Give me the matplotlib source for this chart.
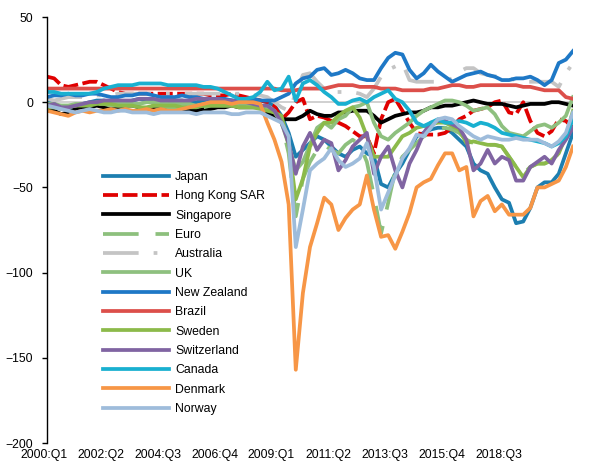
import numpy as np
import matplotlib.pyplot as plt
import matplotlib.transforms as mtransforms

plt.rcParams['font.family'] = ['Liberation Sans', 'DejaVu Sans']

# quarterly, 2000:Q1 .. 2018:Q3 (75 points)
tick_labels = ['2000:Q1', '2002:Q2', '2004:Q3', '2006:Q4', '2009:Q1',
               '2011:Q2', '2013:Q3', '2015:Q4', '2018:Q3']

japan = [0, -1, -3, -4, -2, -1, 0, 1, 1, 0, -1, 0, 1, 2, 1, 0, -1, 0, 1, 1, 0, 0, 1, 2, 2, 1, 1, 0, 0, 1, 1, 0,
         -2, -8, -18, -32, -28, -24, -20, -22, -26, -30, -32, -28, -26, -30, -32, -48, -50, -42, -36, -28, -20,
         -18, -16, -15, -15, -18, -22, -26, -36, -40, -42, -50, -57, -59, -71, -70, -62, -50, -47, -47, -42, -30, -18]
hong_kong = [15, 14, 10, 9, 10, 11, 12, 12, 10, 8, 6, 5, 5, 5, 5, 5, 5, 5, 5, 5, 5, 5, 5, 4, 4, 4, 5, 4, 3, 2, 1, 0,
             -2, -10, -6, 0, 2, -10, -8, -9, -11, -12, -14, -17, -20, -20, -30, -10, 0, 2, -5, -12, -18,
             -19, -19, -19, -18, -15, -10, -8, -5, -4, -3, 0, 1, -6, -7, 0, -11, -18, -20, -17, -10, -11, -15]
singapore = [-4, -5, -7, -6, -4, -3, -3, -2, -3, -4, -3, -2, -2, -3, -4, -3, -2, -3, -4, -4, -5, -5, -4, -4, -3, -3, -2, -3, -3, -3, -3, -6,
             -8, -10, -10, -10, -8, -5, -7, -8, -8, -6, -6, -5, -5, -5, -8, -12, -10, -8, -7, -6, -6,
             -5, -3, -3, -2, -2, -1, 0, 1, 0, -1, -1, -1, -2, -3, -2, -1, -1, -1, 0, 0, -1, -2]
euro = [-3, -3, -2, -2, -2, -1, -1, -1, -1, -2, -2, -2, -2, -2, -2, -2, -2, -3, -3, -3, -3, -3, -3, -2, -2, -2, -2, -2, -3, -3, -3, -4,
        -6, -12, -30, -67, -45, -35, -28, -25, -28, -30, -25, -22, -25, -35, -55, -77, -59, -40, -32, -28, -24,
        -20, -18, -16, -15, -16, -18, -22, -24, -24, -25, -25, -26, -32, -38, -42, -38, -36, -36, -34, -30, -20, -8]
australia = [2, 1, 2, 3, 3, 3, 4, 4, 4, 4, 5, 5, 5, 5, 5, 5, 5, 5, 5, 5, 5, 5, 5, 5, 5, 5, 5, 5, 5, 4, 4, 3,
             0, -3, -5, 5, 16, 17, 12, 8, 6, 6, 6, 6, 5, 3, 8, 15, 19, 21, 23, 13, 12,
             12, 12, 12, 12, 14, 18, 20, 20, 17, 16, 15, 16, 14, 13, 12, 12, 12, 12, 12, 9, 17, 23]
uk = [-1, -1, -2, -2, -1, -1, -1, 0, 0, 0, 0, -1, -1, -1, 0, 0, 0, -1, -1, -1, -1, -2, -2, -1, -1, -1, -1, -1, -1, -2, -2, -3,
      -5, -12, -25, -40, -35, -25, -15, -12, -15, -10, -8, -3, -2, 0, -12, -20, -22, -18, -15, -12, -8,
      -5, -3, -1, 1, 1, 0, -2, -5, -4, -3, -7, -14, -18, -19, -20, -17, -14, -13, -15, -12, -8, 3]
new_zealand = [3, 4, 4, 5, 4, 4, 5, 5, 4, 3, 3, 4, 4, 5, 5, 4, 3, 3, 3, 4, 3, 3, 2, 2, 2, 2, 1, 1, 2, 2, 1, 1,
               1, 3, 5, 11, 14, 15, 19, 20, 16, 17, 19, 17, 14, 13, 13, 20, 26, 29, 28, 19, 14,
               17, 22, 18, 15, 12, 14, 16, 17, 18, 16, 15, 13, 13, 14, 14, 15, 13, 10, 13, 23, 25, 30]
brazil = [8, 8, 8, 8, 8, 8, 8, 8, 8, 8, 8, 8, 8, 8, 8, 8, 8, 8, 8, 8, 8, 8, 8, 8, 8, 8, 8, 8, 8, 8, 8, 8,
          8, 7, 7, 7, 8, 8, 8, 8, 9, 10, 10, 10, 9, 9, 9, 8, 8, 8, 7, 7, 7,
          7, 8, 8, 9, 10, 10, 9, 9, 10, 10, 10, 10, 10, 10, 9, 9, 8, 7, 7, 7, 3, 2]
sweden = [-3, -3, -4, -3, -2, -2, -2, -1, -1, -1, -2, -2, -2, -3, -3, -2, -2, -2, -2, -3, -3, -3, -2, -2, -2, -2, -2, -3, -3, -3, -4, -5,
          -6, -8, -25, -57, -45, -26, -18, -12, -12, -8, -5, -3, -9, -20, -32, -32, -32, -26, -20, -18, -15,
          -14, -13, -12, -12, -14, -16, -24, -23, -24, -25, -25, -26, -32, -38, -44, -38, -36, -36, -34, -30, -20, -5]
switzerland = [-2, -1, -3, -3, -2, -1, 0, 0, 1, 1, 1, 1, 1, 2, 2, 2, 1, 1, 1, 1, 1, 2, 2, 2, 2, 1, 1, 0, 0, -1, -2, -2,
               -5, -12, -24, -42, -26, -18, -28, -22, -24, -40, -34, -26, -22, -18, -42, -32, -26, -40, -50, -36, -28,
               -18, -12, -11, -11, -13, -15, -22, -40, -36, -28, -36, -32, -34, -46, -46, -38, -35, -32, -36, -28, -22, -15]
canada = [6, 6, 5, 5, 5, 5, 5, 6, 8, 9, 10, 10, 10, 11, 11, 11, 11, 10, 10, 10, 10, 10, 9, 9, 8, 6, 4, 2, 2, 3, 6, 12,
          7, 8, 15, 1, 11, 13, 10, 6, 3, -1, -1, 1, 2, 0, 3, 5, 7, 2, 0, -5, -12,
          -14, -12, -10, -12, -12, -11, -12, -14, -12, -13, -15, -18, -19, -20, -21, -22, -23, -24, -26, -24, -20, -10]
denmark = [-5, -6, -7, -8, -6, -5, -6, -5, -5, -4, -5, -4, -5, -5, -4, -5, -4, -5, -5, -4, -3, -2, -1, 0, 0, 0, -1, 0, 0, 0, -1, -12,
           -22, -35, -60, -157, -112, -85, -71, -56, -60, -75, -68, -63, -60, -43, -63, -79, -78, -86, -76, -65, -50,
           -47, -45, -37, -30, -30, -40, -38, -67, -58, -55, -64, -60, -66, -66, -66, -62, -50, -50, -48, -46, -38, -26]
norway = [-2, -3, -4, -5, -6, -5, -4, -5, -6, -6, -5, -5, -6, -6, -6, -7, -6, -6, -6, -6, -6, -7, -6, -6, -6, -6, -7, -7, -6, -6, -6, -8,
          -10, -12, -20, -85, -63, -40, -36, -33, -27, -34, -38, -36, -33, -24, -38, -63, -53, -43, -33, -27, -19,
          -20, -15, -10, -9, -10, -14, -17, -20, -22, -20, -21, -22, -22, -21, -22, -22, -22, -24, -26, -23, -18, -6]

series = [
    ('Japan', japan, '#1c7eb0', None),
    ('Hong Kong SAR', hong_kong, '#e00000', (4, 1.2)),
    ('Singapore', singapore, '#000000', None),
    ('Euro', euro, '#8dc07d', (9.5, 4.5)),
    ('Australia', australia, '#c4c4c4', (9.5, 4, 1, 4)),
    ('UK', uk, '#8ec07f', None),
    ('New Zealand', new_zealand, '#1e78c6', None),
    ('Brazil', brazil, '#dc4f4a', None),
    ('Sweden', sweden, '#8cba4a', None),
    ('Switzerland', switzerland, '#8064a2', None),
    ('Canada', canada, '#19b0d0', None),
    ('Denmark', denmark, '#f79646', None),
    ('Norway', norway, '#9ebcdb', None),
]

fig = plt.figure(figsize=(5.89, 4.70), dpi=100)
ax = fig.add_axes([0.0798, 0.0574, 0.893, 0.9064])
x = np.arange(len(japan))

ax.axhline(0, color='#c8c8c8', lw=1.2, zorder=0)
for name, vals, col, dash in series:
    line, = ax.plot(x, vals, color=col, lw=2.7, label=name, solid_joinstyle='round')
    if dash is not None:
        line.set_dashes(dash)

ax.set_xlim(0, len(x) - 1)
ax.set_ylim(-200, 50)
ax.set_yticks(np.arange(-200, 51, 50))
ax.set_xticks(x[:65:8])
ax.set_xticklabels(tick_labels)
for s in ['top', 'right', 'bottom']:
    ax.spines[s].set_visible(False)
ax.spines['left'].set_linewidth(1.0)
ax.tick_params(axis='y', direction='out', length=3.6, width=1, labelsize=8.8, pad=6.5)
ax.tick_params(axis='x', length=0, labelsize=8.8, pad=4)

# excel puts the category labels a few pixels left of the points
shift = mtransforms.ScaledTranslation(-3 / 100, 0, fig.dpi_scale_trans)
for lab in ax.get_xticklabels():
    lab.set_transform(lab.get_transform() + shift)

ax.legend(loc='upper left', bbox_to_anchor=(0.175, 0.636), bbox_transform=fig.transFigure,
          frameon=False, fontsize=8.8, handlelength=5.4, handletextpad=0.5,
          labelspacing=0.6, borderpad=0, borderaxespad=0)

fig.savefig('out.png', dpi=100)
